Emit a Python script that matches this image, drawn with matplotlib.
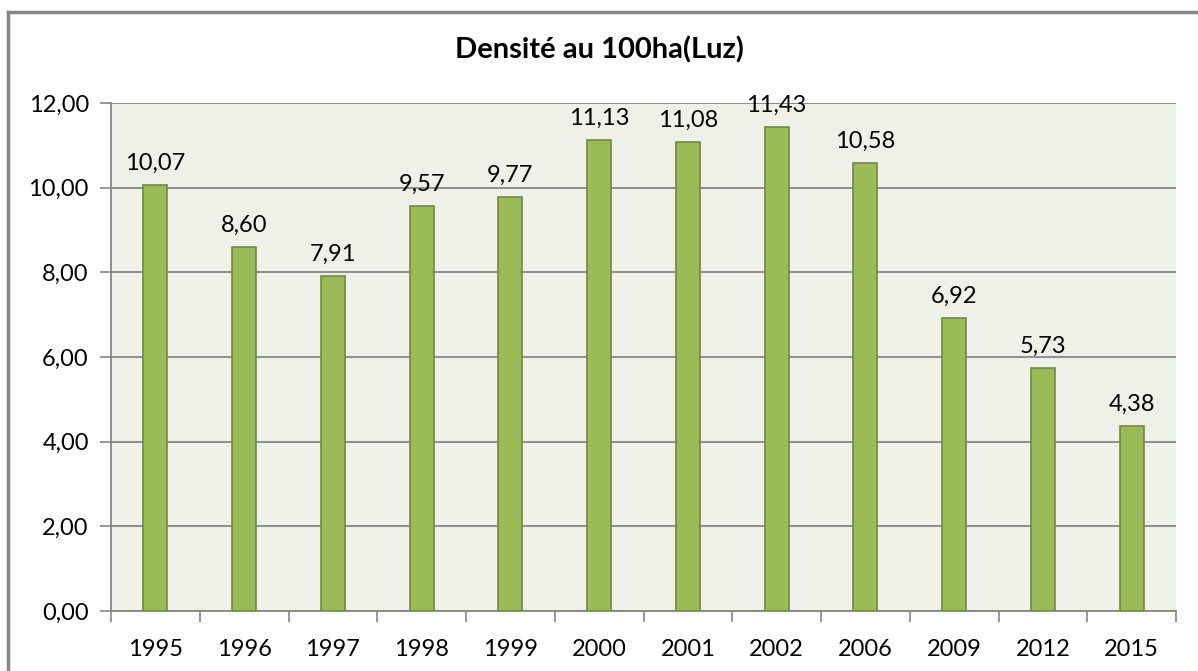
import numpy as np
import matplotlib.pyplot as plt
from matplotlib.lines import Line2D

# données
years = ['1995', '1996', '1997', '1998', '1999', '2000', '2001', '2002', '2006', '2009', '2012', '2015']
density = [10.07, 8.60, 7.91, 9.57, 9.77, 11.13, 11.08, 11.43, 10.58, 6.92, 5.73, 4.38]
yticks = [0, 2, 4, 6, 8, 10, 12]

plt.rcParams['font.family'] = ['Lato', 'DejaVu Sans']

fig = plt.figure(figsize=(11.98, 6.71), dpi=100)
ax = fig.add_axes([111 / 1198, 1 - 611 / 671, (1176 - 111) / 1198, (611 - 103) / 671])

grey = '#868686'
ax.set_facecolor('#eef1e8')

x = np.arange(len(years))
ax.bar(x, density, width=0.27, color='#9bbb59', edgecolor='#71893f', linewidth=1.2, zorder=3)

for xi, v in zip(x, density):
    ax.annotate(f'{v:.2f}'.replace('.', ','), (xi, v), xytext=(0, 8), textcoords='offset points',
                ha='center', va='bottom', fontsize=17, color='black', zorder=4)

ax.set_xlim(-0.5, len(years) - 0.5)
ax.set_ylim(0, 12)
ax.set_yticks(yticks)
ax.set_yticklabels([f'{t:.2f}'.replace('.', ',') for t in yticks], fontsize=17)
ax.yaxis.grid(True, color=grey, linewidth=1.3, zorder=0)

ax.set_xticks(x)
ax.set_xticklabels(years, fontsize=17)
ax.set_xticks(np.arange(-0.5, len(years)), minor=True)
ax.tick_params(axis='x', which='major', length=0, pad=20)
ax.tick_params(axis='x', which='minor', length=8, color=grey, width=1.2)
ax.tick_params(axis='y', length=8, color=grey, width=1.2, pad=8)

for side in ['top', 'right']:
    ax.spines[side].set_visible(False)
for side in ['left', 'bottom']:
    ax.spines[side].set_color(grey)
    ax.spines[side].set_linewidth(1.3)

fig.text(0.5, 1 - 50 / 671, 'Densité au 100ha(Luz)', ha='center', va='center',
         fontsize=21, fontweight='bold')

# cadre extérieur
bx = 8 / 1198
by = 1 - 12 / 671
fig.add_artist(Line2D([bx, 1], [by, by], color=grey, linewidth=2.5, transform=fig.transFigure))
fig.add_artist(Line2D([bx, bx], [0, by], color=grey, linewidth=2.5, transform=fig.transFigure))

fig.savefig('out.png', dpi=100)
